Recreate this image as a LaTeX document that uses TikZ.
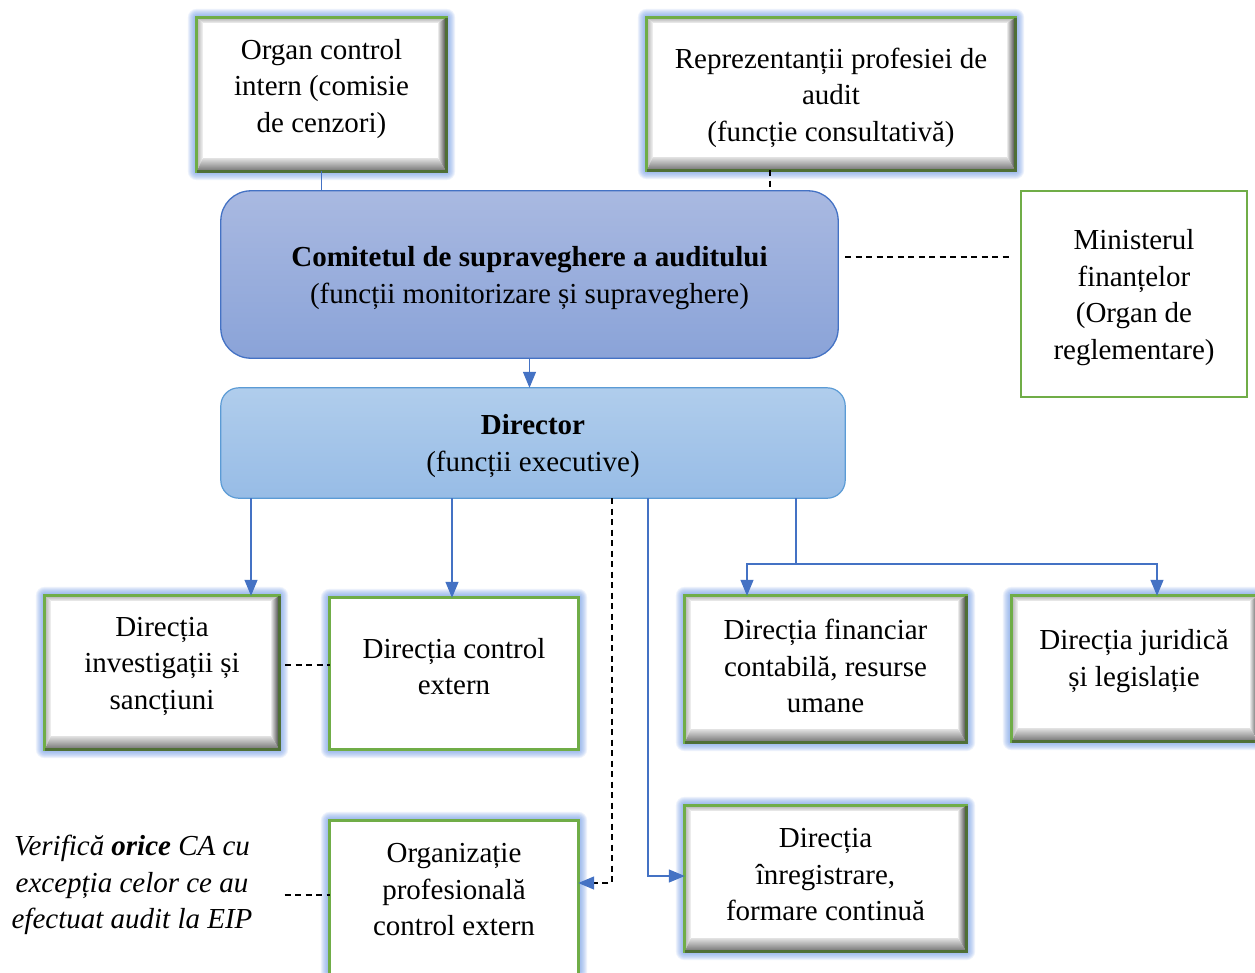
\documentclass[tikz,border=0pt]{standalone}
\usepackage{fontspec}
\setmainfont{Liberation Serif}
\usetikzlibrary{arrows.meta}
\pgfdeclarelayer{bg}
\pgfsetlayers{bg,main}

\definecolor{bgreen}{HTML}{70AD47}
\definecolor{dgreen}{HTML}{4F6F36}
\definecolor{glowc}{HTML}{6F9BE8}
\definecolor{lineblue}{HTML}{4472C4}
\definecolor{commtop}{HTML}{A9B9E1}
\definecolor{commbot}{HTML}{8AA3D8}
\definecolor{dirtop}{HTML}{B0CDEC}
\definecolor{dirbot}{HTML}{97BCE6}
\definecolor{dirline}{HTML}{5B9BD5}

\tikzset{
  box/.style={rectangle, draw=none, inner sep=0pt},
  txt/.style={align=center, font=\fontsize{29}{36.5}\selectfont, inner sep=0pt},
  conn/.style={draw=lineblue, line width=1.2pt},
  arr/.style={conn, -{Triangle[length=16pt,width=13pt]}},
  dsh/.style={draw=black, line width=1.4pt, dash pattern=on 6pt off 4.5pt},
}

% soft blue halo around a box
\newcommand\halo[1]{%
  \foreach \g in {9,8,...,1}{%
    \fill[glowc, opacity=0.12, rounded corners=\g pt]
      ([shift={(-\g pt,-\g pt)}]#1.south west) rectangle ([shift={(\g pt,\g pt)}]#1.north east);
  }}

% white box with bevelled inner edges and green frame
\newcommand\bevelbox[1]{%
  \fill[white] (#1.south west) rectangle (#1.north east);
  \shade[top color=black!30, bottom color=black!6]
    (#1.north west) -- (#1.north east) -- ([shift={(-8pt,-5pt)}]#1.north east)
    -- ([shift={(6pt,-5pt)}]#1.north west) -- cycle;
  \shade[left color=black!30, right color=black!4]
    (#1.north west) -- ([shift={(6pt,-5pt)}]#1.north west)
    -- ([shift={(6pt,13pt)}]#1.south west) -- (#1.south west) -- cycle;
  \shade[top color=black!12, bottom color=black!55]
    (#1.south west) -- ([shift={(6pt,13pt)}]#1.south west)
    -- ([shift={(-8pt,13pt)}]#1.south east) -- (#1.south east) -- cycle;
  \shade[left color=black!10, right color=black!75]
    (#1.south east) -- ([shift={(-8pt,13pt)}]#1.south east)
    -- ([shift={(-8pt,-5pt)}]#1.north east) -- (#1.north east) -- cycle;
  \draw[bgreen, line width=3pt] (#1.south west) rectangle (#1.north east);
  \draw[dgreen, line width=3pt] (#1.north east) -- (#1.south east) -- (#1.south west);
}

% plain white box with green frame
\newcommand\flatbox[1]{%
  \fill[white] (#1.south west) rectangle (#1.north east);
  \draw[bgreen, line width=3pt] (#1.south west) rectangle (#1.north east);
}

\begin{document}
\begin{tikzpicture}[x=1pt, y=-1pt]
\useasboundingbox (0,0) rectangle (1255,972);

% box frames
\node[box, minimum width=249pt, minimum height=153pt] (org)  at (321.5,94.5) {};
\node[box, minimum width=368pt, minimum height=152pt] (rep)  at (831,94) {};
\node[box, minimum width=617pt, minimum height=167pt] (comm) at (529.5,274.5) {};
\node[box, minimum width=226pt, minimum height=206pt] (min)  at (1134,294) {};
\node[box, minimum width=624pt, minimum height=110pt] (dir)  at (533,443) {};
\node[box, minimum width=234pt, minimum height=153pt] (inv)  at (162,672.5) {};
\node[box, minimum width=248pt, minimum height=151pt] (ext)  at (454,673.5) {};
\node[box, minimum width=281pt, minimum height=146pt] (fin)  at (825.5,669) {};
\node[box, minimum width=246pt, minimum height=145pt] (jur)  at (1135,668.5) {};
\node[box, minimum width=248pt, minimum height=158pt] (prof) at (454,900) {};
\node[box, minimum width=281pt, minimum height=145pt] (reg)  at (825.5,878.5) {};

% texts
\node[txt] (org-t)  at (321.5,89) {Organ control\\intern (comisie\\de cenzori)};
\node[txt] (rep-t)  at (831,97.5) {Reprezentanții profesiei de\\audit\\(funcție consultativă)};
\node[txt] (comm-t) at (529.5,278) {\textbf{Comitetul de supraveghere a auditului}\\(funcții monitorizare și supraveghere)};
\node[txt] (min-t)  at (1134,297.5) {Ministerul\\finanțelor\\(Organ de\\reglementare)};
\node[txt] (dir-t)  at (533,446) {\textbf{Director}\\(funcții executive)};
\node[txt] (inv-t)  at (162,666) {Direcția\\investigații și\\sancțiuni};
\node[txt] (ext-t)  at (454,666.5) {Direcția control\\extern};
\node[txt] (fin-t)  at (825.5,666) {Direcția financiar\\contabilă, resurse\\umane};
\node[txt] (jur-t)  at (1134,661) {Direcția juridică\\și legislație};
\node[txt] (prof-t) at (454,890) {Organizație\\profesională\\control extern};
\node[txt] (reg-t)  at (825.5,875) {Direcția\\înregistrare,\\formare continuă};
\node[txt, font=\fontsize{29}{36.5}\selectfont\itshape] (note) at (132,885)
  {Verifică \textbf{orice} CA cu\\excepția celor ce au\\efectuat audit la EIP};

% box decoration
\begin{pgfonlayer}{bg}
  \fill[white] (0,0) rectangle (1255,972);
  \foreach \b in {org,rep,inv,ext,fin,jur,prof,reg}{\halo{\b}}
  \foreach \b in {org,rep,inv,fin,jur,reg}{\bevelbox{\b}}
  \foreach \b in {ext,prof}{\flatbox{\b}}
  \fill[white] (min.south west) rectangle (min.north east);
  \draw[bgreen, line width=2.5pt] (min.south west) rectangle (min.north east);
  \shadedraw[top color=commtop, bottom color=commbot, draw=lineblue, line width=1.3pt,
    rounded corners=30pt] (comm.south west) rectangle (comm.north east);
  \shadedraw[top color=dirtop, bottom color=dirbot, draw=dirline, line width=1.2pt,
    rounded corners=18pt] (dir.south west) rectangle (dir.north east);
\end{pgfonlayer}

% guide columns and rows for connectors
\coordinate (xr) at (770,0);
\coordinate (xa) at (251,0);
\coordinate (xb) at (452,0);
\coordinate (xc) at (612,0);
\coordinate (xd) at (648,0);
\coordinate (xe) at (796,0);
\coordinate (xf) at (747,0);
\coordinate (xg) at (1157,0);
\coordinate (yl) at (0,257);
\coordinate (ya) at (0,883);
\coordinate (yb) at (0,876);
\coordinate (yc) at (0,564);
\coordinate (yd) at (0,665);
\coordinate (ye) at (0,895);

% connectors
\draw[conn] (org.south) -- (org.south |- comm.north);
\draw[dsh] (rep.south -| xr) -- (comm.north -| xr);
\draw[dsh] ([xshift=7pt]comm.east |- yl) -- ([xshift=-9pt]min.west |- yl);
\draw[arr] (comm.south) -- (comm.south |- dir.north);
\draw[arr] (dir.south -| xa) -- (inv.north -| xa);
\draw[arr] (dir.south -| xb) -- (ext.north -| xb);
\draw[dsh, -{Triangle[length=16pt,width=13pt,color=lineblue]}] (dir.south -| xc) |- (prof.east |- ya);
\draw[arr] (dir.south -| xd) |- (reg.west |- yb);
\draw[conn] (dir.south -| xe) -- (xe |- yc);
\draw[arr] (xe |- yc) -| (fin.north -| xf);
\draw[arr] (xe |- yc) -| (jur.north -| xg);
\draw[dsh] ([xshift=6pt]inv.east |- yd) -- (ext.west |- yd);
\draw[dsh] ([xshift=32pt]note.east |- ye) -- (prof.west |- ye);
\end{tikzpicture}
\end{document}
